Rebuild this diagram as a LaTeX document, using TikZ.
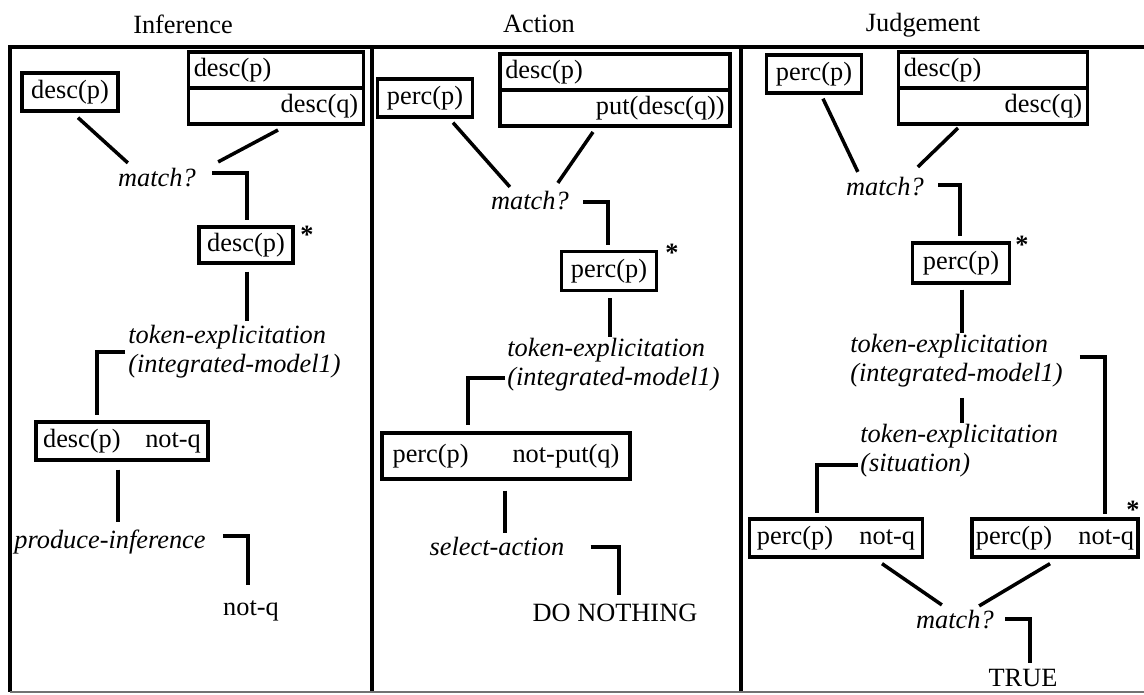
\documentclass[tikz,border=0pt]{standalone}
\usepackage{fontspec}
\setmainfont{Liberation Serif}
\usetikzlibrary{matrix,positioning,calc}
\newcommand{\diafont}{\fontsize{15}{16.5}\selectfont}

\begin{document}
\begin{tikzpicture}[x=0.02cm, y=-0.02cm, font=\diafont]
    \tikzstyle{fact} = [rectangle, draw, line width=1.9pt, inner sep=1pt,
    minimum height=0.76cm]
    \tikzstyle{rulerow} = [rectangle, draw, line width=1.9pt, inner xsep=3pt,
    inner ysep=1pt, minimum height=0.72cm, align=left]
    \tikzstyle{proc} = [font=\diafont\itshape, inner sep=0pt,
    text height=11pt, text depth=3.5pt]
    \tikzstyle{proclong} = [font=\diafont\itshape, inner sep=0pt, align=left]
    \tikzstyle{result} = [inner sep=0pt, text height=11pt, text depth=3.5pt]
    \tikzstyle{starmark} = [inner sep=0pt, font=\diafont\bfseries]
    \tikzstyle{line} = [draw, line width=2pt]

    \useasboundingbox (0,0) rectangle (1144,695);

    % Frame and titles
    \draw[line width=1.9pt] (1144,47) -- (10,47) -- (10,692);
    \draw[line width=1.9pt] (372,47) -- (372,692);
    \draw[line width=1.9pt] (741,47) -- (741,692);
    \draw[line width=1pt, black!55] (10,692) -- (1144,692);
    \node[inner sep=0pt] (tinf) at (183,24) {Inference};
    \node[inner sep=0pt] (tact) at (539,24) {Action};
    \node[inner sep=0pt] (tjud) at (923,25) {Judgement};

    % Inference
    \node[fact, minimum width=1.92cm] (in1) at (70,92) {desc(p)};
    \matrix [matrix of nodes, inner sep=0pt,
    nodes={rulerow, text width=3.29cm},
    row sep=-1.9pt
    ] (rule1) at (276,88) {
      desc(p) \\
      |[align=right]| desc(q) \\
    };
    \node[proc] (m1) at (157,180) {match?};
    \node[fact, minimum width=1.88cm, minimum height=0.72cm] (st1) at (246,245) {desc(p)};
    \node[starmark] (s1) at (307,235) {*};
    \node[proclong, anchor=west] (te1) at (128,352) {token-explicitation\\(integrated-model1)};
    \node[fact, minimum width=3.44cm] (ca1) at (122,441) {desc(p)\hspace{14pt}not-q};
    \node[proc] (pi1) at (110,542) {produce-inference};
    \node[result] (out1) at (251,609) {not-q};

    \draw[line] ($(in1.south)+(8,5)$) -- ($(m1.north west)+(10,-4)$);
    \draw[line] ($(rule1.south)+(2,4)$) -- ($(m1.north east)+(22,-5)$);
    \draw[line] ($(m1.east)+(16,-7)$) -| ($(st1.north)+(1,-5)$);
    \draw[line] ($(st1.south)+(1,7)$) -- ($(st1.south |- te1.north)+(1,-4)$);
    \draw[line] ($(te1.west)+(-3,0)$) -| ($(ca1.north)+(-25,-5)$);
    \draw[line] ($(ca1.south)+(-4,8)$) -- ($(ca1.south |- pi1.north)+(-4,-7)$);
    \draw[line] ($(pi1.east)+(17,-6)$) -| ($(out1.north)+(-3,-11)$);

    % Action
    \node[fact, minimum width=1.9cm] (in2) at (425,98) {perc(p)};
    \matrix [matrix of nodes, inner sep=0pt,
    nodes={rulerow, text width=4.39cm},
    row sep=-1.9pt
    ] (rule2) at (615,90) {
      desc(p) \\
      |[align=right]| put(desc(q)) \\
    };
    \node[proc] (m2) at (530,203) {match?};
    \node[fact, minimum width=1.9cm, minimum height=0.78cm] (st2) at (609,271) {perc(p)};
    \node[starmark] (s2) at (672,253) {*};
    \node[proclong, anchor=west] (te2) at (507,365) {token-explicitation\\(integrated-model1)};
    \node[fact, minimum width=4.96cm, minimum height=0.92cm] (ca2) at (506,456) {perc(p)\hspace{25pt}not-put(q)};
    \node[proc] (sa2) at (497,549) {select-action};
    \node[result] (out2) at (615,615) {DO NOTHING};

    \draw[line] ($(in2.south)+(28,4)$) -- ($(m2.north west)+(19,-3)$);
    \draw[line] ($(rule2.south)+(-22,4)$) -- ($(m2.north west)+(67,-7)$);
    \draw[line] ($(m2.east)+(14,-1)$) -| ($(st2.north)+(-1,-5)$);
    \draw[line] ($(st2.south)+(1,6)$) -- ($(st2.south |- te2.north)+(1,-1)$);
    \draw[line] ($(te2.west)+(-2,13)$) -| ($(ca2.north)+(-38,-6)$);
    \draw[line] ($(ca2.south)+(-1,10)$) -- ($(ca2.south |- sa2.north)+(-1,-3)$);
    \draw[line] ($(sa2.east)+(26,-2)$) -| ($(out2.north)+(4,-7)$);

    % Judgement
    \node[fact, minimum width=1.9cm] (in3) at (814,74) {perc(p)};
    \matrix [matrix of nodes, inner sep=0pt,
    nodes={rulerow, text width=3.57cm},
    row sep=-1.9pt
    ] (rule3) at (993,88) {
      desc(p) \\
      |[align=right]| desc(q) \\
    };
    \node[proc] (m3) at (885,189) {match?};
    \node[fact, minimum width=1.94cm, minimum height=0.8cm] (st3) at (961,263) {perc(p)};
    \node[starmark] (s3) at (1022,245) {*};
    \node[proclong, anchor=west] (te3) at (850,361) {token-explicitation\\(integrated-model1)};
    \node[proclong, anchor=west] (ts3) at (860,451) {token-explicitation\\(situation)};
    \node[fact, minimum width=3.46cm] (cl3) at (836,538) {perc(p)\hspace{15pt}not-q};
    \node[fact, minimum width=3.32cm] (cr3) at (1055,538) {perc(p)\hspace{15pt}not-q};
    \node[starmark] (s4) at (1133,510) {*};
    \node[proc] (m4) at (955,622) {match?};
    \node[result] (out3) at (1023,680) {TRUE};

    \draw[line] ($(in3.south)+(9,4)$) -- ($(m3.north west)+(12,-4)$);
    \draw[line] ($(rule3.south)+(-35,2)$) -- ($(m3.north west)+(72,-9)$);
    \draw[line] ($(m3.east)+(14,-4)$) -| ($(st3.north)+(-1,-5)$);
    \draw[line] ($(st3.south)+(1,5)$) -- ($(st3.south |- te3.north)+(1,-1)$);
    \draw[line] ($(st3.south |- te3.south)+(1,10)$) -- ($(st3.south |- ts3.north)+(1,-1)$);
    \draw[line] ($(ts3.west)+(-2,14)$) -| ($(cl3.north)+(-19,-4)$);
    \draw[line] ($(te3.east)+(17,-4)$) -| ($(cr3.north)+(50,-3)$);
    \draw[line] ($(cl3.south)+(46,5)$) -- ($(m4.north west)+(26,-4)$);
    \draw[line] ($(cr3.south)+(-5,5)$) -- ($(m4.north east)+(-15,-3)$);
    \draw[line] ($(m4.east)+(11,-3)$) -| ($(out3.north)+(7,-4)$);
  \end{tikzpicture}
\end{document}
